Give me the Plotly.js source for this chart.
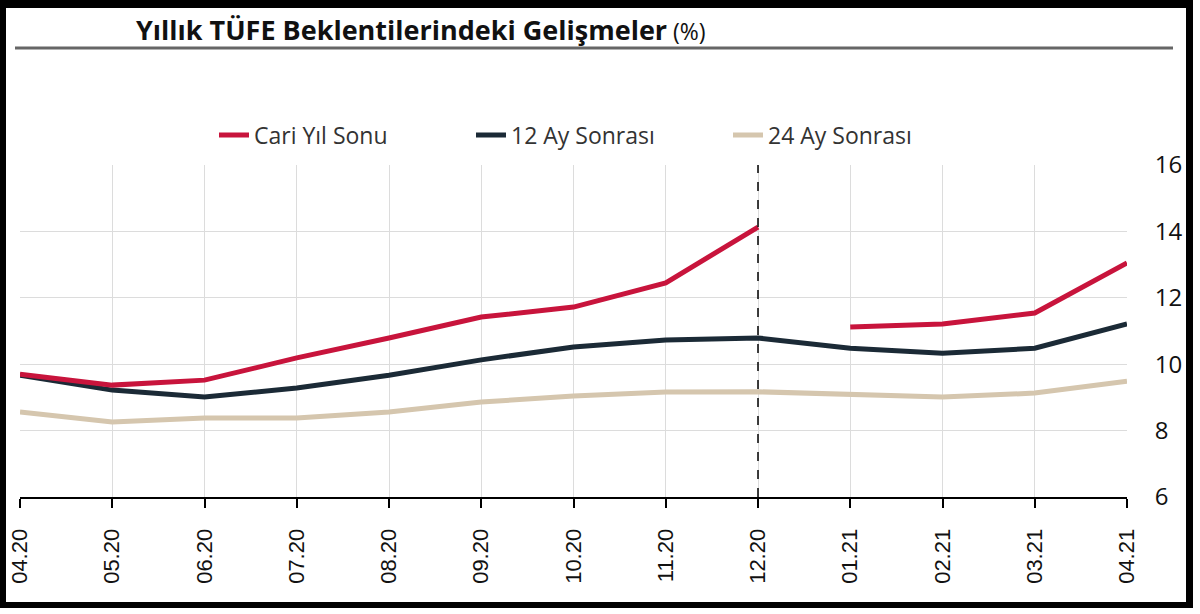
<!DOCTYPE html>
<html>
<head>
<meta charset="utf-8">
<script src="https://cdn.plot.ly/plotly-3.0.1.min.js"></script>
<style>
  html, body { margin: 0; padding: 0; background: #ffffff; }
  #wrap { position: relative; width: 1200px; height: 614px; }
  #chart { position: absolute; left: 0; top: 0; width: 1200px; height: 614px; }
  #frame { position: absolute; left: 0; top: 0; width: 1193px; height: 608px; box-sizing: border-box;
           border-style: solid; border-color: #000; border-width: 8px 7px 6px 6px; pointer-events: none; }
</style>
</head>
<body>
<div id="wrap">
  <div id="chart"></div>
  <div id="frame"></div>
</div>
<script>
// Data
const months = ["04.20","05.20","06.20","07.20","08.20","09.20","10.20","11.20","12.20","01.21","02.21","03.21","04.21"];
const cariYilSonu   = [9.70, 9.37, 9.52, 10.19, 10.79, 11.42, 11.72, 12.45, 14.13, 11.12, 11.21, 11.54, 13.05];
const ay12Sonrasi   = [9.67, 9.22, 9.01, 9.28, 9.67, 10.13, 10.52, 10.73, 10.79, 10.48, 10.33, 10.48, 11.21];
const ay24Sonrasi   = [8.56, 8.26, 8.38, 8.38, 8.56, 8.86, 9.04, 9.16, 9.17, 9.10, 9.01, 9.13, 9.49];
const seriesNames   = ["Cari Yıl Sonu", "12 Ay Sonrası", "24 Ay Sonrası"];
const yTicks        = [6, 8, 10, 12, 14, 16];
const yearBreak     = "12.20";

const cRed = "#C8143C", cNavy = "#1B2A36", cBeige = "#D5C6AE";
const lw = 5;

// Split the current-year-end series at the year change
const splitIdx = months.indexOf("01.21");
const breakIdx = months.indexOf(yearBreak);

const traces = [
  { x: months.slice(0, splitIdx), y: cariYilSonu.slice(0, splitIdx), name: seriesNames[0],
    type: "scatter", mode: "lines", line: { color: cRed, width: lw }, legendgroup: "a" },
  { x: months, y: ay12Sonrasi, name: seriesNames[1],
    type: "scatter", mode: "lines", line: { color: cNavy, width: lw }, legendgroup: "b" },
  { x: months, y: ay24Sonrasi, name: seriesNames[2],
    type: "scatter", mode: "lines", line: { color: cBeige, width: lw }, legendgroup: "c" },
  { x: months.slice(splitIdx), y: cariYilSonu.slice(splitIdx), name: seriesNames[0], showlegend: false,
    type: "scatter", mode: "lines", line: { color: cRed, width: lw }, legendgroup: "a" }
];
traces.forEach(t => t.legendrank = seriesNames.indexOf(t.name) + 1);
const drawOrder = [traces[2], traces[1], traces[0], traces[3]];

const layout = {
  width: 1200, height: 614,
  paper_bgcolor: "#ffffff", plot_bgcolor: "#ffffff",
  margin: { l: 20, r: 73, t: 165, b: 117 },
  font: { family: "Open Sans, sans-serif", color: "#222" },
  title: {
    text: "<b>Yıllık TÜFE Beklentilerindeki Gelişmeler</b><span style='font-size:23px'> (%)</span>",
    font: { family: "Open Sans, sans-serif", size: 27, color: "#111" },
    x: 136 / 1200, xanchor: "left", xref: "container",
    y: 1 - 31 / 614, yanchor: "middle", yref: "container"
  },
  showlegend: true,
  legend: {
    orientation: "h", x: (214 - 20) / 1107, xanchor: "left", y: (497 - 135) / 332, yanchor: "middle",
    yref: "paper", font: { family: "Open Sans, sans-serif", size: 23, color: "#333" },
    traceorder: "normal", entrywidth: 212, bgcolor: "rgba(0,0,0,0)"
  },
  xaxis: {
    type: "category", range: [0, months.length - 1],
    tickangle: -90, tickfont: { family: "Liberation Sans, Arial, sans-serif", size: 22, color: "#111" },
    ticklabelstandoff: 12,
    showgrid: true, gridcolor: "#dcdcdc", gridwidth: 1,
    showline: true, linecolor: "#000", linewidth: 2,
    ticks: "outside", ticklen: 9, tickwidth: 2, tickcolor: "#000",
    zeroline: false, fixedrange: true
  },
  yaxis: {
    side: "right", range: [6, 16], tickvals: yTicks, ticktext: yTicks.map(String),
    tickfont: { family: "Open Sans, sans-serif", size: 24, color: "#111" },
    showgrid: true, gridcolor: "#dcdcdc", gridwidth: 1,
    showline: false, zeroline: false,
    ticks: "outside", ticklen: 22, tickcolor: "rgba(0,0,0,0)", fixedrange: true
  },
  shapes: [
    { type: "line", xref: "x", yref: "paper", x0: breakIdx, x1: breakIdx, y0: 0, y1: 1, layer: "above",
      line: { color: "#000", width: 1.5, dash: "dash" } },
    { type: "line", xref: "paper", yref: "paper",
      x0: (15 - 20) / 1107, x1: (1173 - 20) / 1107, y0: (497 - 48) / 332, y1: (497 - 48) / 332,
      line: { color: "#666", width: 3 } }
  ]
};

Plotly.newPlot("chart", drawOrder, layout, { displayModeBar: false, staticPlot: true });
</script>
</body>
</html>
